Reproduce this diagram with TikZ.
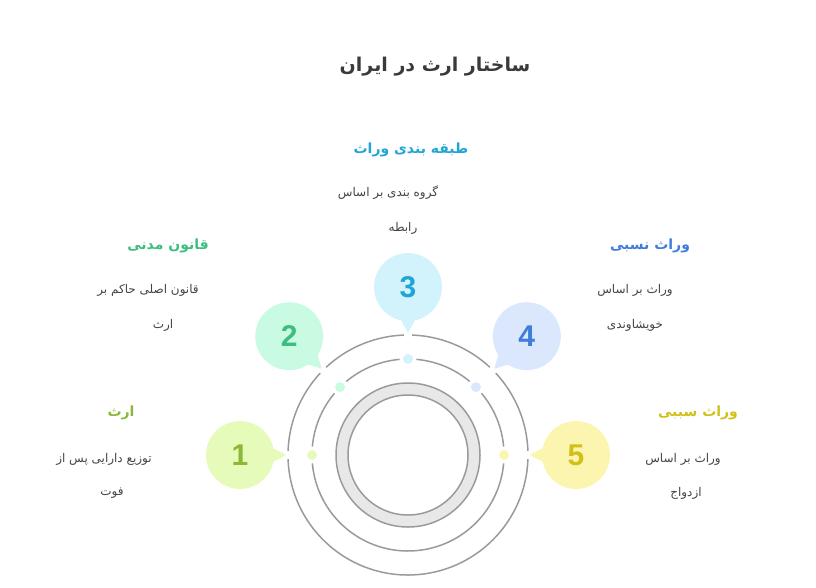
\documentclass[tikz,border=0pt]{standalone}
\usepackage{fontspec}
\setmainfont{Liberation Sans}
\newfontfamily\arabicfont[Script=Arabic]{DejaVu Sans}
\TeXXeTstate=1
\usepackage{tikz}
\usetikzlibrary{calc, positioning}

\definecolor{ringgray}{HTML}{9A9A9A}
\definecolor{ringfill}{HTML}{E8E8E8}
\definecolor{textgray}{HTML}{444444}
\definecolor{titlegray}{HTML}{3A3A3A}
\definecolor{fillA}{HTML}{E6FBB9}
\definecolor{numA}{HTML}{8CB83A}
\definecolor{fillB}{HTML}{C9FBE3}
\definecolor{numB}{HTML}{3DBE7F}
\definecolor{fillC}{HTML}{D3F3FC}
\definecolor{numC}{HTML}{21A5D6}
\definecolor{fillD}{HTML}{DAE7FD}
\definecolor{numD}{HTML}{3F7DDC}
\definecolor{fillE}{HTML}{FCF5B0}
\definecolor{numE}{HTML}{D2C01A}

\tikzset{
  ringline/.style={ringgray, line width=1.5pt},
  bubble/.style={circle, minimum size=68pt, inner sep=0pt, font=\fontsize{30}{30}\selectfont\bfseries},
  dotmark/.style={circle, minimum size=10pt, inner sep=0pt},
  headtext/.style={font=\arabicfont\bfseries\fontsize{14}{16}\selectfont},
  bodytext/.style={font=\arabicfont\fontsize{12}{14}\selectfont, text=textgray},
}

\begin{document}
\begin{tikzpicture}[x=1pt, y=1pt]
  \useasboundingbox (0,0) rectangle (816,-587);
  \coordinate (C) at (408,-455);
  % title
  \node[font=\arabicfont\bfseries\fontsize{19}{22}\selectfont, text=titlegray] (title) at (435,-67) {\beginR ساختار ارث در ایران\endR};
  % rings
  \draw[ringline, fill=ringfill, even odd rule] (C) circle[radius=72pt] (C) circle[radius=60pt];
  \foreach \s/\e in {2/43, 47/88, 92/133, 137/178, 182/358}
    \draw[ringline] ($(C)+(\s:120pt)$) arc[start angle=\s, end angle=\e, radius=120pt];
  \foreach \s/\e in {5/40, 50/85, 95/130, 140/175, 185/355}
    \draw[ringline] ($(C)+(\s:96pt)$) arc[start angle=\s, end angle=\e, radius=96pt];
  % bubbles with pointers
  \foreach \n/\a/\fc/\tc in {1/180/fillA/numA, 2/135/fillB/numB, 3/90/fillC/numC, 4/45/fillD/numD, 5/0/fillE/numE} {
    \node[bubble, fill=\fc, text=\tc] (b\n) at ($(C)+(\a:168pt)$) {\n};
    \coordinate (t\n) at ($(C)+(\a:122pt)$);
    \fill[\fc] ($(b\n)+(\a+167:33pt)$) -- (t\n) -- ($(b\n)+(\a+193:33pt)$) -- cycle;
    \node[dotmark, fill=\fc] (d\n) at ($(C)+(\a:96pt)$) {};
  }
  % labels
  \foreach \n/\x/\y/\tc/\t in {1/121/413/numA/ارث, 2/168/246/numB/قانون مدنی, 3/411/150/numC/طبقه بندی وراث, 4/650/246/numD/وراث نسبی, 5/698/413/numE/وراث سببی}
    \node[headtext, text=\tc] (h\n) at (\x,-\y) {\beginR \t\endR};
  \foreach \n/\x/\y/\t in {1/104/459/توزیع دارایی پس از, 2/148/290/قانون اصلی حاکم بر, 3/388/193/گروه بندی بر اساس, 4/635/290/وراث بر اساس, 5/683/459/وراث بر اساس}
    \node[bodytext] (p\n) at (\x,-\y) {\beginR \t\endR};
  \foreach \n/\x/\y/\t in {1/112/493/فوت, 2/163/325/ارث, 3/403/228/رابطه, 4/635/325/خویشاوندی, 5/686/493/ازدواج}
    \node[bodytext] (q\n) at (\x,-\y) {\beginR \t\endR};
\end{tikzpicture}
\end{document}
